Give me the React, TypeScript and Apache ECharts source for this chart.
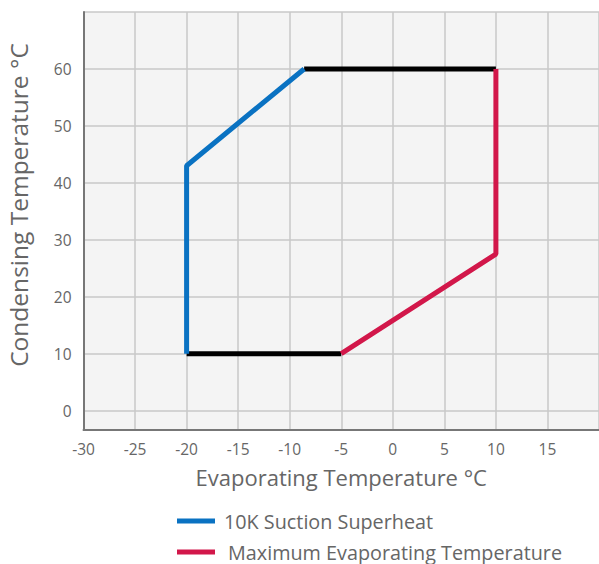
import React, { useEffect, useRef } from "react";
import * as echarts from "echarts";

const superheatLine: [number, number][] = [[-20, 10], [-20, 43], [-8.6, 60]];
const maxEvapLine: [number, number][] = [[10, 60], [10, 27.5], [-5, 10]];
const topLimit: [number, number][] = [[-8.6, 60], [10, 60]];
const bottomLimit: [number, number][] = [[-20, 10], [-5, 10]];
const seriesNames = ["10K Suction Superheat", "Maximum Evaporating Temperature"];
const xTitle = "Evaporating Temperature °C";
const yTitle = "Condensing Temperature °C";

const FONT = "'Open Sans', 'Noto Sans', sans-serif";
const GRAY = "#666";

export default function App() {
  const ref = useRef<HTMLDivElement>(null);
  useEffect(() => {
    if (!ref.current) return;
    const chart = echarts.init(ref.current, undefined, { renderer: "svg" });
    const legendBase = {
      orient: "horizontal",
      icon: "rect",
      itemWidth: 38,
      itemHeight: 5,
      padding: 0,
      itemGap: 0,
      left: 177,
    };
    chart.setOption({
      animation: false,
      grid: {
        left: 83.5, top: 12, right: 0, bottom: 134,
        show: true, backgroundColor: "#f4f4f4", borderWidth: 0,
        outerBoundsMode: "none",
        containLabel: false,
      },
      legend: [
        { ...legendBase, data: [seriesNames[0]], top: 511,
          textStyle: { color: GRAY, fontSize: 19.8, fontFamily: FONT, padding: [0, 0, 0, 4] } },
        { ...legendBase, data: [seriesNames[1]], top: 542,
          textStyle: { color: GRAY, fontSize: 19.8, fontFamily: FONT, padding: [0, 0, 0, 8] } },
      ],
      graphic: [
        {
          type: "text",
          x: 18, y: 205,
          rotation: Math.PI / 2,
          style: {
            text: yTitle, fill: GRAY, fontSize: 24.5, fontFamily: FONT,
            align: "center", verticalAlign: "middle",
          },
        },
      ],
      xAxis: {
        type: "value",
        min: -30, max: 20, interval: 5,
        axisLine: { show: true, onZero: false, lineStyle: { color: "#777", width: 2 } },
        axisTick: { show: false },
        splitLine: { show: true, lineStyle: { color: "#c8c8c8", width: 1.5 } },
        axisLabel: {
          color: GRAY, fontSize: 15.5, fontFamily: FONT, margin: 11,
          showMaxLabel: false,
        },
        name: xTitle,
        nameLocation: "middle",
        nameGap: 36,
        nameTextStyle: { color: GRAY, fontSize: 22, fontFamily: FONT },
      },
      yAxis: {
        type: "value",
        min: -3.4, max: 70,
        axisLine: { show: true, onZero: false, lineStyle: { color: "#777", width: 2 } },
        axisTick: { show: false },
        splitLine: { show: true, lineStyle: { color: "#c8c8c8", width: 1.5 } },
        axisLabel: {
          color: GRAY, fontSize: 15.5, fontFamily: FONT, margin: 12,
          formatter: (v: number) => (Math.abs(v % 10) < 1e-6 && v < 70 ? String(v) : ""),
        },
      },
      series: [
        {
          type: "line", name: "top", data: topLimit, symbol: "none",
          lineStyle: { color: "#000", width: 5 }, z: 2,
        },
        {
          type: "line", name: "bottom", data: bottomLimit, symbol: "none",
          lineStyle: { color: "#000", width: 5 }, z: 2,
        },
        {
          type: "line", name: seriesNames[0], data: superheatLine, symbol: "none",
          color: "#0a72c2",
          lineStyle: { color: "#0a72c2", width: 5 }, z: 3,
        },
        {
          type: "line", name: seriesNames[1], data: maxEvapLine, symbol: "none",
          color: "#d2174a",
          lineStyle: { color: "#d2174a", width: 5 }, z: 3,
        },
      ],
    });
    return () => chart.dispose();
  }, []);
  return <div ref={ref} style={{ width: 599, height: 564, position: "absolute", left: 0, top: 0 }} />;
}
